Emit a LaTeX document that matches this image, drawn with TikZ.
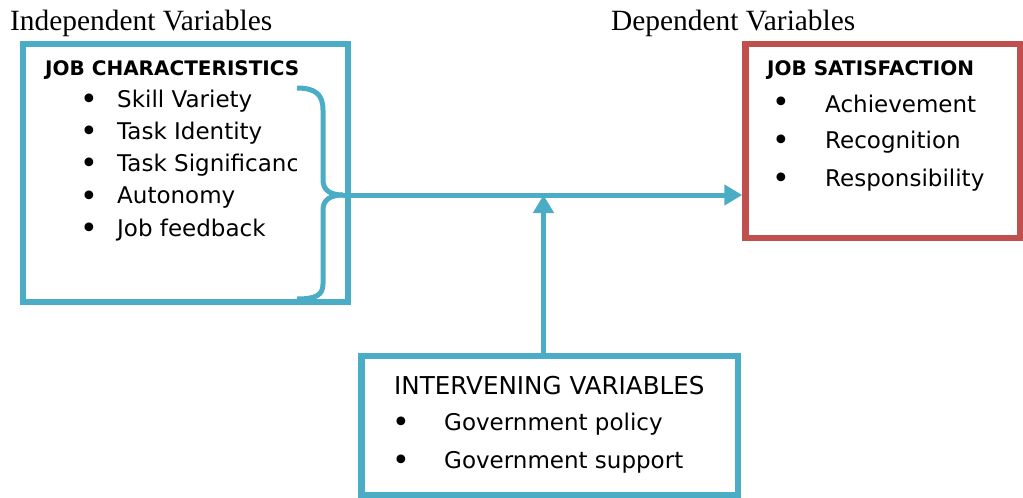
\documentclass[tikz,border=0pt]{standalone}
\usepackage{fontspec}
\setmainfont{DejaVu Sans}
\newfontfamily\titlefont{Liberation Serif}
\usetikzlibrary{arrows.meta}
\definecolor{frameblue}{RGB}{75,172,198}
\definecolor{framered}{RGB}{192,80,77}
\tikzset{
  varbox/.style={draw=frameblue, line width=6.5pt, rectangle, inner sep=0pt},
  heading/.style={anchor=west, inner sep=0pt, font=\fontsize{29.4}{29.4}\selectfont\titlefont},
  boxhead/.style={anchor=west, inner sep=0pt, font=\fontsize{20}{20}\selectfont\bfseries},
  item/.style={anchor=west, inner sep=0pt, font=\fontsize{23}{23}\selectfont},
  dot/.style={anchor=center, inner sep=0pt, font=\fontsize{30}{30}\selectfont},
  link/.style={draw=frameblue, line width=5pt},
}
\begin{document}
\begin{tikzpicture}[x=1pt,y=-1pt]
\useasboundingbox (0,0) rectangle (1023,498);

% column headings
\node[heading] (indep) at (10,23) {Independent Variables};
\node[heading] (dep) at (611,23) {Dependent Variables};

% independent variables
\node[varbox, minimum width=325pt, minimum height=258pt] (jc) at (185.5,173) {};
\node[boxhead] (jchead) at (45,70) {JOB CHARACTERISTICS};
\node[dot] (b1) at (89,102) {•};
\node[dot] (b2) at (89,134) {•};
\node[dot] (b3) at (89,166) {•};
\node[dot] (b4) at (89,199) {•};
\node[dot] (b5) at (89,231) {•};
\node[item] (i1) at (117,101) {Skill Variety};
\node[item] (i2) at (117,133) {Task Identity};
\begin{scope}
  \clip (0,0) rectangle (296,498);
  \node[item] (i3) at (117,165) {Task Significance};
\end{scope}
\node[item] (i4) at (117,198) {Autonomy};
\node[item] (i5) at (117,230) {Job feedback};

% dependent variables
\node[varbox, draw=framered, minimum width=274.5pt, minimum height=194pt] (js) at (882.75,141) {};
\node[boxhead] (jshead) at (767,70) {JOB SATISFACTION};
\node[dot] (d1) at (781,105) {•};
\node[dot] (d2) at (781,143) {•};
\node[dot] (d3) at (781,181) {•};
\node[item] (s1) at (825,104) {Achievement};
\node[item] (s2) at (825,142) {Recognition};
\node[item] (s3) at (825,180) {Responsibility};

% intervening variables
\node[varbox, minimum width=376.5pt, minimum height=139pt] (iv) at (549.75,425.5) {};
\node[item, font=\fontsize{24.6}{24.6}\selectfont] (ivhead) at (394,385.5) {INTERVENING VARIABLES};
\node[dot] (e1) at (401,425) {•};
\node[dot] (e2) at (401,463) {•};
\node[item] (g1) at (444,424) {Government policy};
\node[item] (g2) at (444,462) {Government support};

% brace gathering the job characteristics
\coordinate (tip) at (343,195);
\coordinate (jct) at (543.5,195);
\draw[link] (297,88) .. controls (316,88) and (323,95) .. (323,110)
  -- (323,180) .. controls (323,190) and (330,195) .. (tip);
\draw[link] (tip) .. controls (330,195) and (323,200) .. (323,210)
  -- (323,284) .. controls (323,295) and (316,299) .. (297,299);

% connectors
\draw[link, -{Triangle[length=18pt,width=20pt]}] (tip) -- (tip -| js.west);
\draw[link, -{Triangle[length=18pt,width=20pt]}] (jct |- iv.north) -- (jct);
\end{tikzpicture}
\end{document}
